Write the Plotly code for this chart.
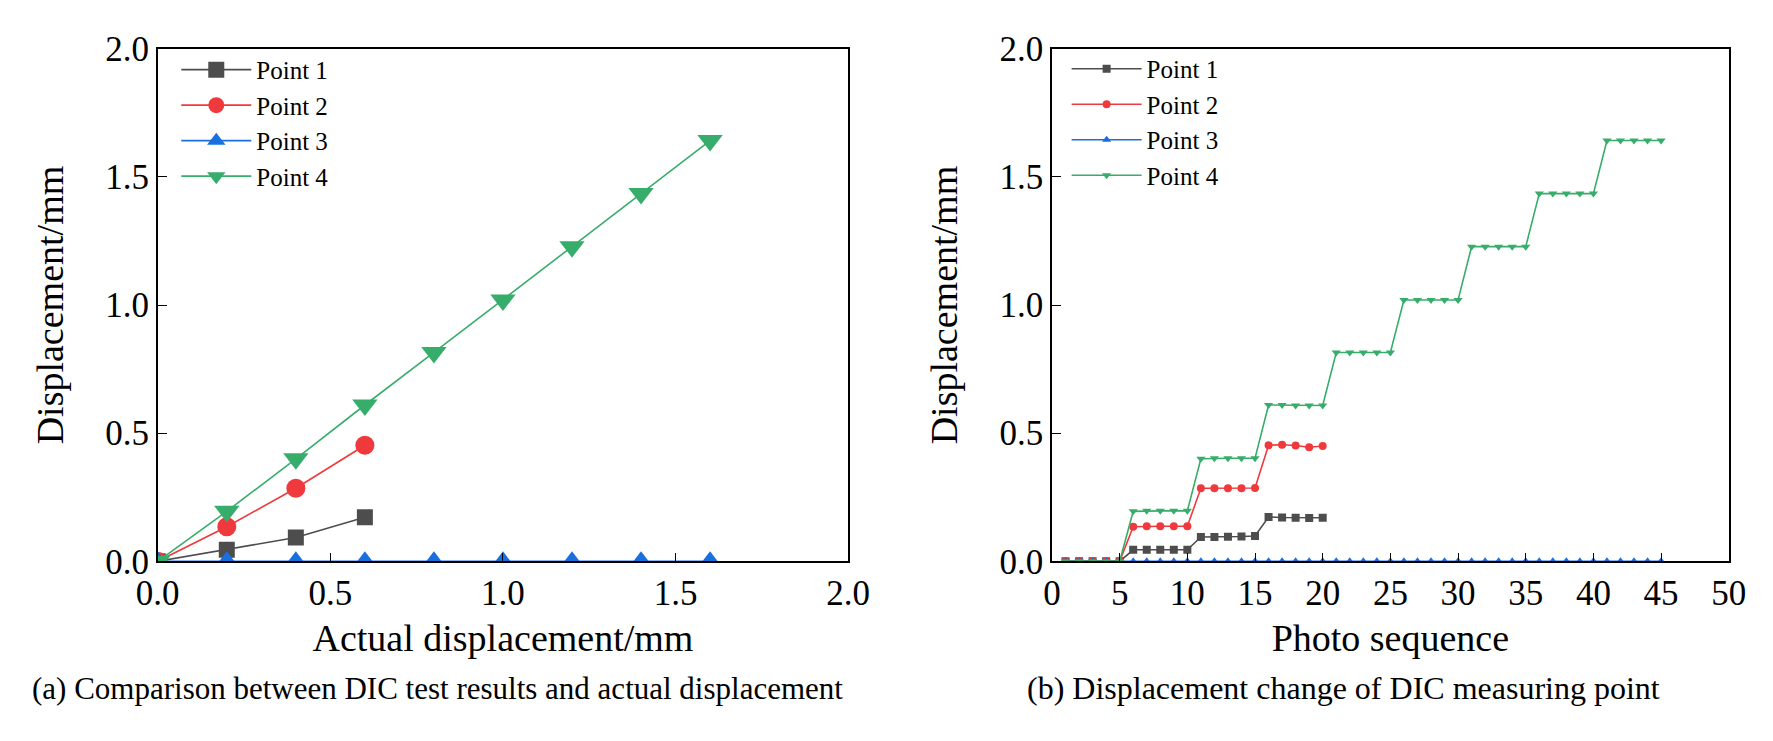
import plotly.graph_objects as go

# ---------------- data ----------------
actual_x = [0.0, 0.2, 0.4, 0.6, 0.8, 1.0, 1.2, 1.4, 1.6]
a_p1 = [0.0, 0.045, 0.093, 0.172]
a_p2 = [0.0, 0.135, 0.285, 0.453]
a_p3 = [0.0, 0.0, 0.0, 0.0, 0.0, 0.0, 0.0, 0.0, 0.0]
a_p4 = [0.0, 0.195, 0.40, 0.61, 0.815, 1.02, 1.228, 1.435, 1.642]

seq_20 = list(range(1, 21))
seq_45 = list(range(1, 46))
b_p1 = [0, 0, 0, 0, 0,
        0.045, 0.045, 0.045, 0.045, 0.045,
        0.095, 0.095, 0.096, 0.097, 0.099,
        0.173, 0.171, 0.170, 0.169, 0.170]
b_p2 = [0, 0, 0, 0, 0,
        0.135, 0.137, 0.137, 0.137, 0.137,
        0.285, 0.285, 0.285, 0.285, 0.286,
        0.453, 0.455, 0.452, 0.445, 0.450]
b_p3 = [0.0] * 45
b_p4 = [0, 0, 0, 0, 0,
        0.195, 0.197, 0.197, 0.197, 0.197,
        0.400, 0.402, 0.402, 0.402, 0.402,
        0.610, 0.610, 0.608, 0.608, 0.608,
        0.815, 0.815, 0.815, 0.815, 0.815,
        1.020, 1.020, 1.020, 1.020, 1.020,
        1.228, 1.228, 1.228, 1.228, 1.228,
        1.435, 1.435, 1.435, 1.435, 1.435,
        1.642, 1.642, 1.642, 1.642, 1.642]

names = ["Point 1", "Point 2", "Point 3", "Point 4"]
colors = ["#4d4d4d", "#f0393c", "#1a6fdf", "#37ad6b"]
symbols = ["square", "circle", "triangle-up", "triangle-down"]

FONT = "Liberation Serif, Times New Roman, serif"

fig = go.Figure()

left_y = [a_p1, a_p2, a_p3, a_p4]
left_sizes = [16, 19, 20, 22]
for i in range(4):
    ys = left_y[i]
    fig.add_trace(go.Scatter(
        x=actual_x[:len(ys)], y=ys, name=names[i], mode="lines+markers",
        line=dict(color=colors[i], width=1.6),
        marker=dict(symbol=symbols[i], size=left_sizes[i], color=colors[i]),
        xaxis="x", yaxis="y", legend="legend"))

right_x = [seq_20, seq_20, seq_45, seq_45]
right_y = [b_p1, b_p2, b_p3, b_p4]
for i in range(4):
    fig.add_trace(go.Scatter(
        x=right_x[i], y=right_y[i], name=names[i], mode="lines+markers",
        line=dict(color=colors[i], width=1.6),
        marker=dict(symbol=symbols[i], size=8, color=colors[i]),
        xaxis="x2", yaxis="y2", legend="legend2"))

axis_common = dict(
    showline=True, linecolor="black", linewidth=1.6, mirror=True,
    ticks="inside", ticklen=9, tickwidth=1.4, tickcolor="black",
    showgrid=False, zeroline=False,
    tickfont=dict(family=FONT, size=35, color="black"),
    title_font=dict(family=FONT, size=38, color="black"),
)

y_dom = [1 - 564 / 741, 1 - 23 / 741]

fig.update_layout(
    width=1773, height=741,
    margin=dict(l=0, r=0, t=0, b=0),
    paper_bgcolor="white", plot_bgcolor="white",
    font=dict(family=FONT, color="black"),
    xaxis=dict(domain=[131 / 1773, 839 / 1773], range=[0, 2.0], dtick=0.5,
               tickformat=".1f", anchor="y",
               title=dict(text="Actual displacement/mm", standoff=12),
               **axis_common),
    yaxis=dict(domain=y_dom, range=[0, 2.0], dtick=0.5, tickformat=".1f",
               anchor="x", title=dict(text="Displacement/mm", standoff=30),
               **axis_common),
    xaxis2=dict(domain=[1048 / 1773, 1742 / 1773], range=[0, 50], dtick=5,
                anchor="y2", title=dict(text="Photo sequence", standoff=12),
                **axis_common),
    yaxis2=dict(domain=y_dom, range=[0, 2.0], dtick=0.5, tickformat=".1f",
                anchor="x2", title=dict(text="Displacement/mm", standoff=30),
                **axis_common),
    legend=dict(x=150 / 1773, y=1 - 21 / 741, xanchor="left", yanchor="top",
                bgcolor="rgba(0,0,0,0)", itemwidth=70, tracegroupgap=0,
                font=dict(family=FONT, size=25, color="black")),
    legend2=dict(x=1063 / 1773, y=1 - 20 / 741, xanchor="left", yanchor="top",
                 bgcolor="rgba(0,0,0,0)", itemwidth=70, tracegroupgap=0,
                 font=dict(family=FONT, size=25, color="black")),
    showlegend=True,
)

fig.add_annotation(text="(a) Comparison between DIC test results and actual displacement",
                   x=0, y=1 - 698 / 741, xref="paper", yref="paper",
                   xanchor="left", yanchor="middle", showarrow=False,
                   font=dict(family=FONT, size=31, color="black"))
fig.add_annotation(text="(b) Displacement change of DIC measuring point",
                   x=1020 / 1773, y=1 - 698 / 741, xref="paper", yref="paper",
                   xanchor="left", yanchor="middle", showarrow=False,
                   font=dict(family=FONT, size=32, color="black"))

fig.write_html("out.html")
